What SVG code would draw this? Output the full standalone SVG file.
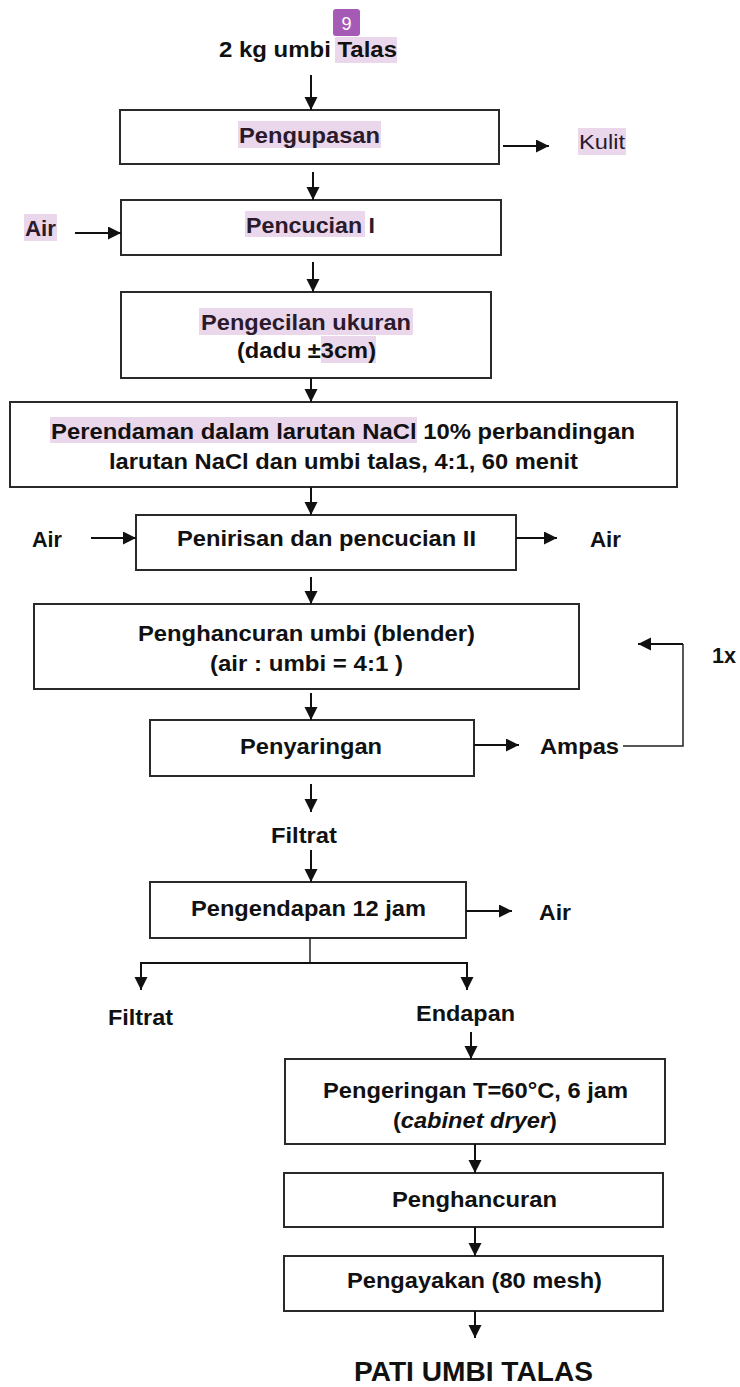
<svg xmlns="http://www.w3.org/2000/svg" width="740" height="1387" viewBox="0 0 740 1387">
  <style>
    .box { fill: #ffffff; stroke: #2a2a2a; stroke-width: 2; }
    .lbl { font-family: "Liberation Sans", Arial, sans-serif; font-size: 22px; font-weight: bold; fill: #111111; }
    .big { font-size: 27px; }
    .reg { font-family: "Liberation Sans", Arial, sans-serif; font-size: 21px; fill: #2a1a2c; }
    .hl { fill: #ead7ec; }
    .hlt { fill: #2a1a2c; }
    .ln { fill: none; stroke: #111111; stroke-width: 2; }
    .thin { fill: none; stroke: #222222; stroke-width: 1.5; }
  </style>
  <defs>
    <marker id="arr" markerUnits="userSpaceOnUse" markerWidth="14" markerHeight="14" refX="13" refY="6.5" orient="auto">
      <path d="M0,0 L13,6.5 L0,13 z" fill="#111111"/>
    </marker>
  </defs>
  <rect width="740" height="1387" fill="#ffffff"/>

  <!-- input -->
  <g id="input">
    <rect x="333" y="9" width="27" height="27" rx="3" fill="#a55bb6"/>
    <text x="346.5" y="30" text-anchor="middle" font-family="Liberation Sans, Arial, sans-serif" font-size="18" fill="#ffffff">9</text>
    <rect class="hl" x="335" y="37" width="62" height="26"/>
    <text class="lbl" x="219" y="57" textLength="178" lengthAdjust="spacingAndGlyphs">2 kg umbi Talas</text>
  </g>

  <g id="pengupasan">
    <rect class="box" x="120" y="110" width="379" height="54"/>
    <rect class="hl" x="238" y="121" width="143" height="27"/>
    <text class="lbl hlt" x="239" y="143" textLength="141" lengthAdjust="spacingAndGlyphs">Pengupasan</text>
  </g>
  <g id="kulit">
    <rect class="hl" x="578" y="128" width="48" height="27"/>
    <text class="reg" x="579" y="149" textLength="46" lengthAdjust="spacingAndGlyphs">Kulit</text>
  </g>

  <g id="air-1">
    <rect class="hl" x="24" y="214" width="33" height="27"/>
    <text class="lbl hlt" x="25" y="236" textLength="31" lengthAdjust="spacingAndGlyphs">Air</text>
  </g>
  <g id="pencucian-1">
    <rect class="box" x="121" y="200" width="380" height="55"/>
    <rect class="hl" x="245" y="211" width="120" height="26"/>
    <text class="lbl hlt" x="246" y="233" textLength="129" lengthAdjust="spacingAndGlyphs">Pencucian I</text>
  </g>

  <g id="pengecilan">
    <rect class="box" x="121" y="292" width="370" height="86"/>
    <rect class="hl" x="199" y="308" width="214" height="27"/>
    <rect class="hl" x="321" y="336" width="55" height="27"/>
    <text class="lbl hlt" x="201" y="330" textLength="210" lengthAdjust="spacingAndGlyphs">Pengecilan ukuran</text>
    <text class="lbl" x="237" y="358" textLength="139" lengthAdjust="spacingAndGlyphs">(dadu ±3cm)</text>
  </g>

  <g id="perendaman">
    <rect class="box" x="10" y="402" width="667" height="85"/>
    <rect class="hl" x="50" y="417" width="367" height="26"/>
    <text class="lbl" x="51" y="439" textLength="584" lengthAdjust="spacingAndGlyphs">Perendaman dalam larutan NaCl 10% perbandingan</text>
    <text class="lbl" x="109" y="469" textLength="469" lengthAdjust="spacingAndGlyphs">larutan NaCl dan umbi talas, 4:1, 60 menit</text>
  </g>

  <g id="air-2">
    <text class="lbl" x="32" y="547" textLength="30" lengthAdjust="spacingAndGlyphs">Air</text>
  </g>
  <g id="penirisan">
    <rect class="box" x="136" y="515" width="380" height="55"/>
    <text class="lbl" x="177" y="546" textLength="299" lengthAdjust="spacingAndGlyphs">Penirisan dan pencucian II</text>
  </g>
  <g id="air-3">
    <text class="lbl" x="590" y="547" textLength="31" lengthAdjust="spacingAndGlyphs">Air</text>
  </g>

  <g id="penghancuran-umbi">
    <rect class="box" x="34" y="604" width="545" height="85"/>
    <text class="lbl" x="138" y="641" textLength="337" lengthAdjust="spacingAndGlyphs">Penghancuran umbi (blender)</text>
    <text class="lbl" x="210" y="671" textLength="193" lengthAdjust="spacingAndGlyphs">(air : umbi = 4:1 )</text>
  </g>
  <g id="ulang">
    <text class="lbl" x="712" y="663" textLength="24" lengthAdjust="spacingAndGlyphs">1x</text>
  </g>

  <g id="penyaringan">
    <rect class="box" x="150" y="720" width="324" height="56"/>
    <text class="lbl" x="240" y="754" textLength="142" lengthAdjust="spacingAndGlyphs">Penyaringan</text>
  </g>
  <g id="ampas">
    <text class="lbl" x="540" y="754" textLength="79" lengthAdjust="spacingAndGlyphs">Ampas</text>
  </g>

  <g id="filtrat-1">
    <text class="lbl" x="271" y="843" textLength="66" lengthAdjust="spacingAndGlyphs">Filtrat</text>
  </g>

  <g id="pengendapan">
    <rect class="box" x="150" y="882" width="316" height="56"/>
    <text class="lbl" x="191" y="916" textLength="235" lengthAdjust="spacingAndGlyphs">Pengendapan 12 jam</text>
  </g>
  <g id="air-4">
    <text class="lbl" x="539" y="920" textLength="32" lengthAdjust="spacingAndGlyphs">Air</text>
  </g>

  <g id="filtrat-2">
    <text class="lbl" x="108" y="1025" textLength="65" lengthAdjust="spacingAndGlyphs">Filtrat</text>
  </g>
  <g id="endapan">
    <text class="lbl" x="416" y="1021" textLength="99" lengthAdjust="spacingAndGlyphs">Endapan</text>
  </g>

  <g id="pengeringan">
    <rect class="box" x="285" y="1059" width="380" height="85"/>
    <text class="lbl" x="323" y="1098" textLength="305" lengthAdjust="spacingAndGlyphs">Pengeringan T=60°C, 6 jam</text>
    <text class="lbl" x="393" y="1128" textLength="164" lengthAdjust="spacingAndGlyphs">(<tspan font-style="italic">cabinet dryer</tspan>)</text>
  </g>

  <g id="penghancuran">
    <rect class="box" x="284" y="1173" width="379" height="54"/>
    <text class="lbl" x="392" y="1207" textLength="165" lengthAdjust="spacingAndGlyphs">Penghancuran</text>
  </g>

  <g id="pengayakan">
    <rect class="box" x="284" y="1256" width="379" height="55"/>
    <text class="lbl" x="347" y="1288" textLength="255" lengthAdjust="spacingAndGlyphs">Pengayakan (80 mesh)</text>
  </g>

  <g id="pati">
    <text class="lbl big" x="354" y="1381" textLength="239" lengthAdjust="spacingAndGlyphs">PATI UMBI TALAS</text>
  </g>

  <!-- connectors -->
  <g id="connectors">
    <line class="ln" x1="311" y1="75" x2="311" y2="110" marker-end="url(#arr)"/>
    <line class="ln" x1="503" y1="146" x2="549" y2="146" marker-end="url(#arr)"/>
    <line class="ln" x1="313" y1="172" x2="313" y2="200" marker-end="url(#arr)"/>
    <line class="ln" x1="75" y1="233" x2="121" y2="233" marker-end="url(#arr)"/>
    <line class="ln" x1="313" y1="262" x2="313" y2="292" marker-end="url(#arr)"/>
    <line class="ln" x1="311" y1="378" x2="311" y2="402" marker-end="url(#arr)"/>
    <line class="ln" x1="311" y1="487" x2="311" y2="515" marker-end="url(#arr)"/>
    <line class="ln" x1="91" y1="538" x2="136" y2="538" marker-end="url(#arr)"/>
    <line class="ln" x1="516" y1="538" x2="557" y2="538" marker-end="url(#arr)"/>
    <line class="ln" x1="311" y1="577" x2="311" y2="604" marker-end="url(#arr)"/>
    <line class="ln" x1="311" y1="693" x2="311" y2="720" marker-end="url(#arr)"/>
    <line class="ln" x1="474" y1="745" x2="519" y2="745" marker-end="url(#arr)"/>
    <polyline class="thin" points="623,746 683,746 683,644"/>
    <line class="ln" x1="683" y1="644" x2="638" y2="644" marker-end="url(#arr)"/>
    <line class="ln" x1="311" y1="784" x2="311" y2="812" marker-end="url(#arr)"/>
    <line class="ln" x1="311" y1="850" x2="311" y2="882" marker-end="url(#arr)"/>
    <line class="ln" x1="466" y1="911" x2="512" y2="911" marker-end="url(#arr)"/>
    <line class="thin" x1="310" y1="938" x2="310" y2="963"/>
    <polyline class="ln" points="141,990 141,963 467,963 467,990" marker-end="url(#arr)"/>
    <line class="ln" x1="141" y1="963" x2="141" y2="990" marker-end="url(#arr)"/>
    <line class="ln" x1="471" y1="1032" x2="471" y2="1059" marker-end="url(#arr)"/>
    <line class="ln" x1="475" y1="1144" x2="475" y2="1173" marker-end="url(#arr)"/>
    <line class="ln" x1="475" y1="1227" x2="475" y2="1256" marker-end="url(#arr)"/>
    <line class="ln" x1="475" y1="1311" x2="475" y2="1338" marker-end="url(#arr)"/>
  </g>
</svg>
